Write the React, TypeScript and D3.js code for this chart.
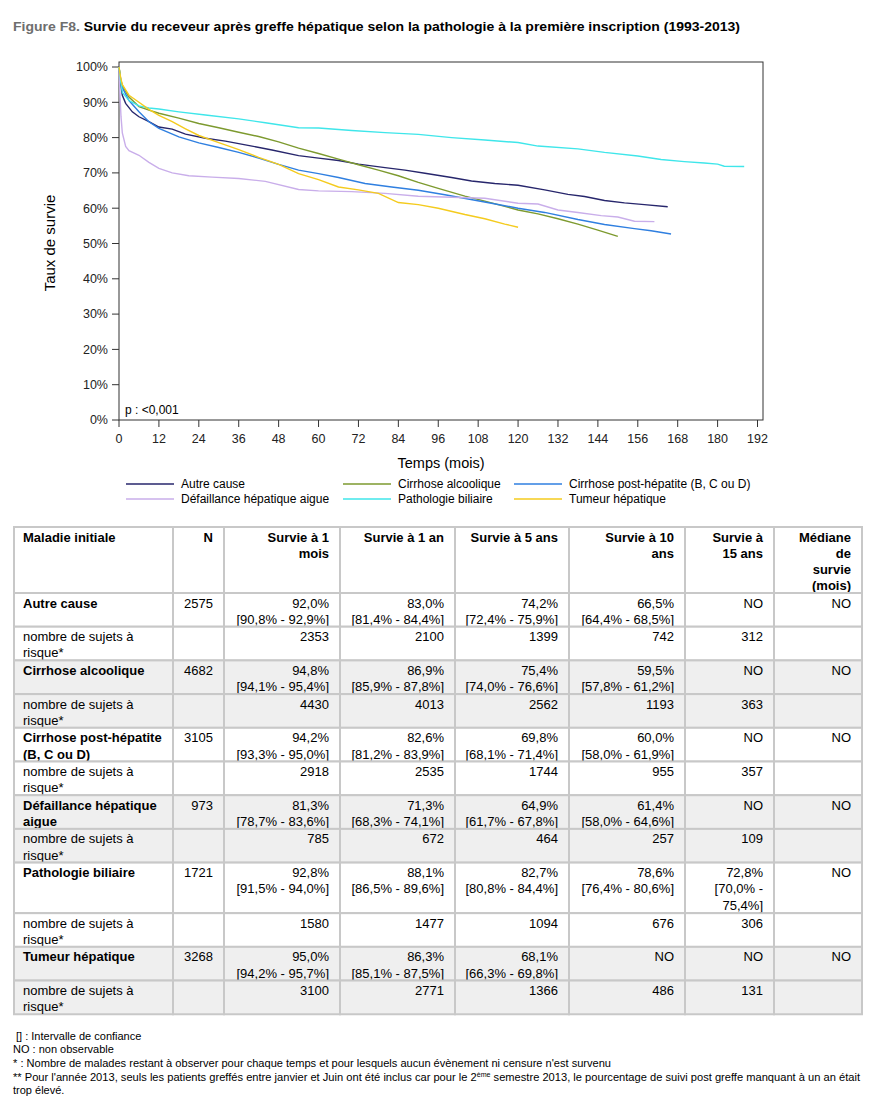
import * as d3 from 'd3';

const FONT = '"Liberation Sans", Arial, Helvetica, sans-serif';
const W = 879;
const H = 1108;

// ---- chart data ----
const SERIES_NAMES = [
  'Autre cause',
  'Cirrhose alcoolique',
  'Cirrhose post-hépatite (B, C ou D)',
  'Défaillance hépatique aigue',
  'Pathologie biliaire',
  'Tumeur hépatique',
];
const SERIES_COLORS = ['#27266c', '#7d9a2f', '#2f7fe0', '#c9aeea', '#3fe6ea', '#f4cb1e'];

// Kaplan-Meier curves: [month, survival %]
const autreCause: [number, number][] = [
  [0, 100], [0.5, 95], [1, 92.0], [2, 89.7], [4, 87.3], [6, 85.9], [9, 84.5], [12, 83.0],
  [16, 82.4], [20, 81.0], [26, 79.8], [32, 79.0], [40, 77.6], [46, 76.5], [54, 74.9],
  [60, 74.2], [66, 73.5], [72, 72.5], [80, 71.5], [86, 70.8], [92, 69.9], [100, 68.7],
  [106, 67.7], [113, 67.0], [120, 66.5], [128, 65.2], [135, 63.9], [140, 63.3],
  [146, 62.2], [152, 61.5], [158, 61.0], [165, 60.4],
];
const cirrhoseAlcoolique: [number, number][] = [
  [0, 100], [0.5, 96.5], [1, 94.8], [3, 91.5], [6, 88.8], [9, 87.8], [12, 86.9],
  [18, 85.5], [24, 84.0], [30, 82.8], [36, 81.5], [42, 80.3], [48, 78.8], [54, 77.0],
  [60, 75.5], [66, 73.9], [72, 72.3], [78, 70.8], [84, 69.2], [90, 67.3], [96, 65.6],
  [104, 63.4], [110, 62.0], [116, 60.5], [120, 59.5], [126, 58.4], [132, 57.0],
  [138, 55.5], [144, 53.8], [150, 52.0],
];
const cirrhosePostHepatite: [number, number][] = [
  [0, 100], [0.5, 96.5], [1, 94.2], [3, 90.5], [6, 87.3], [9, 84.5], [12, 82.6],
  [18, 80.2], [24, 78.5], [30, 77.2], [36, 75.8], [42, 74.2], [48, 72.4], [54, 70.8],
  [60, 69.8], [66, 68.7], [74, 67.0], [82, 66.0], [90, 65.1], [98, 63.8], [105, 62.6],
  [112, 61.4], [120, 60.0], [128, 58.8], [138, 56.8], [146, 55.4], [155, 54.2],
  [160, 53.6], [166, 52.7],
];
const defaillance: [number, number][] = [
  [0, 100], [0.3, 92], [0.6, 86], [1, 81.3], [2, 77.5], [3, 76.3], [6, 75.0], [9, 73.0],
  [12, 71.3], [16, 70.0], [21, 69.2], [28, 68.8], [36, 68.4], [44, 67.6], [54, 65.3],
  [60, 64.9], [70, 64.7], [80, 64.2], [90, 63.4], [100, 63.1], [110, 62.8], [120, 61.4],
  [126, 61.2], [132, 59.5], [138, 58.8], [145, 57.9], [150, 57.5], [155, 56.3], [161, 56.2],
];
const biliaire: [number, number][] = [
  [0, 100], [0.5, 96], [1, 92.8], [3, 90.5], [6, 89.0], [9, 88.4], [12, 88.1], [18, 87.3],
  [26, 86.4], [36, 85.3], [44, 84.2], [54, 82.8], [60, 82.7], [70, 82.0], [80, 81.4],
  [90, 80.9], [100, 80.0], [110, 79.3], [120, 78.6], [126, 77.6], [138, 76.8],
  [146, 75.8], [156, 74.8], [163, 73.8], [170, 73.2], [176, 72.8], [180, 72.5],
  [182, 71.9], [188, 71.8],
];
const tumeur: [number, number][] = [
  [0, 100], [0.5, 97], [1, 95.0], [3, 92], [6, 90.0], [9, 88.0], [12, 86.3], [16, 84.5],
  [20, 82.5], [24, 80.6], [30, 78.6], [36, 76.6], [42, 74.4], [48, 72.4], [54, 69.8],
  [60, 68.1], [66, 66.0], [72, 65.2], [78, 64.2], [84, 61.6], [90, 61.0], [96, 60.0],
  [104, 58.2], [110, 57.0], [116, 55.5], [120, 54.6],
];
const CURVES = [autreCause, cirrhoseAlcoolique, cirrhosePostHepatite, defaillance, biliaire, tumeur];

const X_TICKS = d3.range(0, 193, 12);
const Y_TICKS = d3.range(0, 101, 10);

// ---- table data ----
const HEADERS = [
  ['Maladie initiale'], ['N'], ['Survie à 1', 'mois'], ['Survie à 1 an'], ['Survie à 5 ans'],
  ['Survie à 10', 'ans'], ['Survie à', '15 ans'], ['Médiane', 'de', 'survie', '(mois)'],
];
const DISEASE_LINES = [
  ['Autre cause'], ['Cirrhose alcoolique'], ['Cirrhose post-hépatite', '(B, C ou D)'],
  ['Défaillance hépatique', 'aigue'], ['Pathologie biliaire'], ['Tumeur hépatique'],
];
const N_VALUES = ['2575', '4682', '3105', '973', '1721', '3268'];
const SURV_1M = ['92,0%', '94,8%', '94,2%', '81,3%', '92,8%', '95,0%'];
const CI_1M = ['[90,8% - 92,9%]', '[94,1% - 95,4%]', '[93,3% - 95,0%]', '[78,7% - 83,6%]', '[91,5% - 94,0%]', '[94,2% - 95,7%]'];
const SURV_1A = ['83,0%', '86,9%', '82,6%', '71,3%', '88,1%', '86,3%'];
const CI_1A = ['[81,4% - 84,4%]', '[85,9% - 87,8%]', '[81,2% - 83,9%]', '[68,3% - 74,1%]', '[86,5% - 89,6%]', '[85,1% - 87,5%]'];
const SURV_5A = ['74,2%', '75,4%', '69,8%', '64,9%', '82,7%', '68,1%'];
const CI_5A = ['[72,4% - 75,9%]', '[74,0% - 76,6%]', '[68,1% - 71,4%]', '[61,7% - 67,8%]', '[80,8% - 84,4%]', '[66,3% - 69,8%]'];
const SURV_10A = ['66,5%', '59,5%', '60,0%', '61,4%', '78,6%', 'NO'];
const CI_10A = ['[64,4% - 68,5%]', '[57,8% - 61,2%]', '[58,0% - 61,9%]', '[58,0% - 64,6%]', '[76,4% - 80,6%]', ''];
const SURV_15A = ['NO', 'NO', 'NO', 'NO', '72,8%', 'NO'];
const CI_15A = ['', '', '', '', '[70,0% -\n75,4%]', ''];
const MEDIANE = ['NO', 'NO', 'NO', 'NO', 'NO', 'NO'];
const RISK_1M = ['2353', '4430', '2918', '785', '1580', '3100'];
const RISK_1A = ['2100', '4013', '2535', '672', '1477', '2771'];
const RISK_5A = ['1399', '2562', '1744', '464', '1094', '1366'];
const RISK_10A = ['742', '1193', '955', '257', '676', '486'];
const RISK_15A = ['312', '363', '357', '109', '306', '131'];

const FOOTNOTES = [
  '[] : Intervalle de confiance',
  'NO : non observable',
  "* : Nombre de malades restant à observer pour chaque temps et pour lesquels aucun évènement ni censure n'est survenu",
];
const FOOT4_A = "** Pour l'année 2013, seuls les patients greffés entre janvier et Juin ont été inclus car pour le 2";
const FOOT4_SUP = 'ème';
const FOOT4_B = ' semestre 2013, le pourcentage de suivi post greffe manquant à un an était';
const FOOT5 = 'trop élevé.';

type Cell = { lines: string[]; bold?: boolean; left?: boolean };
type Row = { cells: Cell[]; shaded: boolean; header?: boolean };

function buildRows(): Row[] {
  const rows: Row[] = [];
  rows.push({ cells: HEADERS.map((l, i) => ({ lines: l, bold: true, left: i === 0 })), shaded: false, header: true });
  const withCi = (v: string, ci: string) => (ci ? [v, ...ci.split('\n')] : [v]);
  DISEASE_LINES.forEach((name, i) => {
    const shaded = i % 2 === 1;
    rows.push({
      shaded,
      cells: [
        { lines: name, bold: true, left: true },
        { lines: [N_VALUES[i]] },
        { lines: withCi(SURV_1M[i], CI_1M[i]) },
        { lines: withCi(SURV_1A[i], CI_1A[i]) },
        { lines: withCi(SURV_5A[i], CI_5A[i]) },
        { lines: withCi(SURV_10A[i], CI_10A[i]) },
        { lines: withCi(SURV_15A[i], CI_15A[i]) },
        { lines: [MEDIANE[i]] },
      ],
    });
    rows.push({
      shaded,
      cells: [
        { lines: ['nombre de sujets à', 'risque*'], left: true },
        { lines: [] },
        { lines: [RISK_1M[i]] },
        { lines: [RISK_1A[i]] },
        { lines: [RISK_5A[i]] },
        { lines: [RISK_10A[i]] },
        { lines: [RISK_15A[i]] },
        { lines: [] },
      ],
    });
  });
  return rows;
}

const COL_WIDTHS = [159, 51, 116, 115, 114, 116, 89, 88];
const TABLE_LEFT = 14;
const TABLE_TOP = 527;
const LINE_H = 16.2;

export default function App() {
  // plot area
  const x = d3.scaleLinear().domain([0, 192]).range([119, 757.5]);
  const y = d3.scaleLinear().domain([0, 100]).range([420, 67]);
  const frame = { left: 119, top: 62, right: 763, bottom: 420 };

  const line = d3.line<[number, number]>()
    .x((d) => x(d[0]))
    .y((d) => y(d[1]))
    .curve(d3.curveLinear);

  // table geometry
  const colX = Array.from(d3.cumsum([TABLE_LEFT, ...COL_WIDTHS]));
  const rows = buildRows();
  const rowHeights = rows.map((r) => {
    const n = Math.max(2, d3.max(r.cells, (c) => c.lines.length) ?? 1);
    return n > 3 ? 66 : n * 16.85;
  });
  const rowY = Array.from(d3.cumsum([TABLE_TOP, ...rowHeights]));

  const legendCols = [
    { x1: 126, x2: 174, tx: 181 },
    { x1: 343, x2: 391, tx: 398 },
    { x1: 514, x2: 562, tx: 569 },
  ];
  const legendRowsY = [484, 499];

  return (
    <div style={{ position: 'absolute', left: 0, top: 0 }}>
      <svg width={W} height={H} style={{ display: 'block', background: '#fff' }} fontFamily={FONT}>
        {/* Title */}
        <text x={13} y={31} fontSize={12.5} fontWeight="bold" textLength={727} lengthAdjust="spacingAndGlyphs">
          <tspan fill="#6e6e6e">Figure F8.</tspan>
          <tspan fill="#000"> Survie du receveur après greffe hépatique selon la pathologie à la première inscription (1993-2013)</tspan>
        </text>

        {/* Plot frame */}
        <rect x={frame.left} y={frame.top} width={frame.right - frame.left} height={frame.bottom - frame.top}
          fill="none" stroke="#333" strokeWidth={1} />

        {/* Y axis */}
        {Y_TICKS.map((t) => (
          <g key={`y${t}`}>
            <line x1={112} x2={frame.left} y1={y(t)} y2={y(t)} stroke="#333" />
            <text x={108} y={y(t)} dy="0.35em" textAnchor="end" fontSize={12.5} fill="#222">{`${t}%`}</text>
          </g>
        ))}
        <text transform={`translate(55,243) rotate(-90)`} textAnchor="middle" fontSize={15} fill="#000">Taux de survie</text>

        {/* X axis */}
        {X_TICKS.map((t) => (
          <g key={`x${t}`}>
            <line x1={x(t)} x2={x(t)} y1={frame.bottom} y2={frame.bottom + 7} stroke="#333" />
            <text x={x(t)} y={443} textAnchor="middle" fontSize={12.5} fill="#222">{t}</text>
          </g>
        ))}
        <text x={441} y={468} textAnchor="middle" fontSize={14.5} fill="#000">Temps (mois)</text>

        <text x={125} y={414} fontSize={12} fill="#000">p : &lt;0,001</text>

        {/* Curves */}
        {CURVES.map((c, i) => (
          <path key={SERIES_NAMES[i]} d={line(c) ?? ''} fill="none" stroke={SERIES_COLORS[i]} strokeWidth={1.4} />
        ))}

        {/* Legend */}
        {SERIES_NAMES.map((name, i) => {
          const col = legendCols[i % 3];
          const ly = legendRowsY[Math.floor(i / 3)];
          return (
            <g key={`lg${name}`}>
              <line x1={col.x1} x2={col.x2} y1={ly} y2={ly} stroke={SERIES_COLORS[i]} strokeWidth={1.4} />
              <text x={col.tx} y={ly} dy="0.35em" fontSize={12} fill="#000">{name}</text>
            </g>
          );
        })}

        {/* Table */}
        {rows.map((r, ri) => (
          <g key={`r${ri}`}>
            {r.cells.map((c, ci) => {
              const x0 = colX[ci];
              const x1 = colX[ci + 1];
              const y0 = rowY[ri];
              return (
                <g key={`c${ci}`}>
                  <rect x={x0} y={y0} width={x1 - x0} height={rowHeights[ri]}
                    fill={r.shaded ? '#efefef' : '#fff'} stroke="#c8c8c8" strokeWidth={2} />
                  {c.lines.map((ln, li) => (
                    <text key={li} x={c.left ? x0 + 9 : x1 - 11} y={y0 + 14.5 + li * LINE_H}
                      textAnchor={c.left ? 'start' : 'end'} fontSize={13}
                      fontWeight={c.bold ? 'bold' : 'normal'} fill="#000">{ln}</text>
                  ))}
                </g>
              );
            })}
          </g>
        ))}

        {/* Footnotes */}
        <text x={16} y={1040} fontSize={11} fill="#000">{FOOTNOTES[0]}</text>
        <text x={13} y={1053} fontSize={11} fill="#000">{FOOTNOTES[1]}</text>
        <text x={13} y={1067} fontSize={11} fill="#000" textLength={598} lengthAdjust="spacingAndGlyphs">{FOOTNOTES[2]}</text>
        <text x={13} y={1081} fontSize={11} fill="#000" textLength={847} lengthAdjust="spacingAndGlyphs">
          {FOOT4_A}
          <tspan fontSize={7} dy={-4}>{FOOT4_SUP}</tspan>
          <tspan dy={4}>{FOOT4_B}</tspan>
        </text>
        <text x={13} y={1094} fontSize={11} fill="#000">{FOOT5}</text>
      </svg>
    </div>
  );
}
